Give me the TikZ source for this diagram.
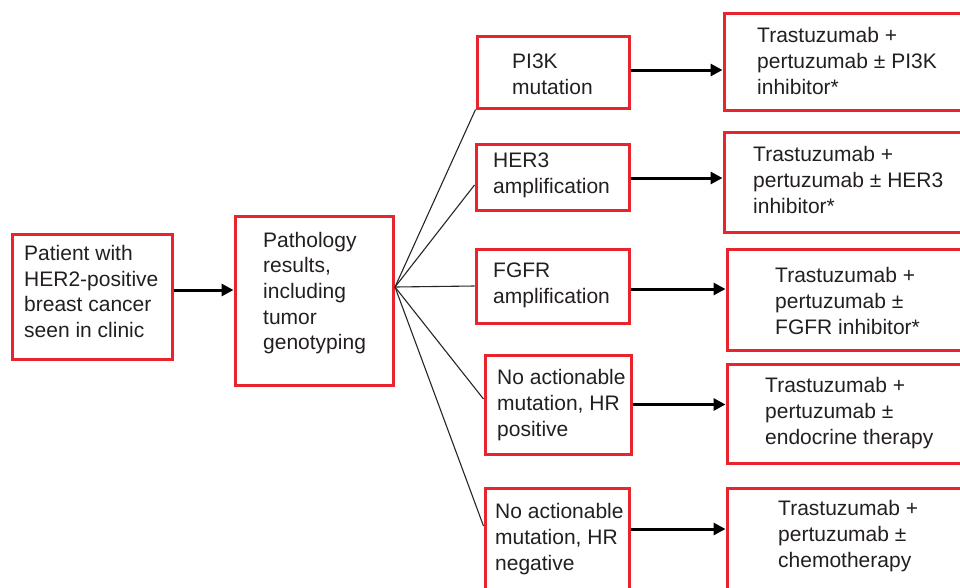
\documentclass[tikz,border=0pt]{standalone}
\usepackage{fontspec}
\setmainfont{Liberation Sans}
\usetikzlibrary{arrows.meta}
\definecolor{boxred}{HTML}{E8242C}
\definecolor{txtgray}{HTML}{231F20}
\tikzset{
  box/.style={draw=boxred, line width=3pt, rectangle, inner sep=0pt},
  txt/.style={anchor=west, inner sep=0pt, align=left, text=txtgray,
    font=\fontsize{21}{25.7}\selectfont},
  arr/.style={draw=black, line width=3pt, -{Triangle[length=12pt,width=12pt]}},
  fanline/.style={draw=black!85, line width=1.1pt}
}
\begin{document}
\begin{tikzpicture}[x=1pt,y=-1pt]
\clip (0,0) rectangle (960,587);
\useasboundingbox (0,0) rectangle (960,587);
% boxes
\node[box, minimum width=160pt, minimum height=125pt] (A) at (92,296.5) {};
\node[box, minimum width=158pt, minimum height=169pt] (B) at (314,300.5) {};
\node[box, minimum width=152pt, minimum height=72pt] (P1) at (553,72) {};
\node[box, minimum width=153pt, minimum height=66pt] (P2) at (552.5,177) {};
\node[box, minimum width=153pt, minimum height=74pt] (P3) at (552.5,286) {};
\node[box, minimum width=146pt, minimum height=99pt] (P4) at (558,404.5) {};
\node[box, minimum width=144pt, minimum height=112pt] (P5) at (557,544) {};
\node[box, minimum width=256pt, minimum height=97pt] (R1) at (852,61.5) {};
\node[box, minimum width=256pt, minimum height=100pt] (R2) at (852,182) {};
\node[box, minimum width=253pt, minimum height=101pt] (R3) at (853.5,299.5) {};
\node[box, minimum width=253pt, minimum height=99pt] (R4) at (853.5,413.5) {};
\node[box, minimum width=253pt, minimum height=112pt] (R5) at (853.5,544) {};
% texts
\node[txt] (tA) at (24,291.5) {Patient with\\HER2-positive\\breast cancer\\seen in clinic};
\node[txt] (tB) at (263,293) {Pathology\\results,\\including\\tumor\\genotyping};
\node[txt] (t1) at (512,74.5) {PI3K\\mutation};
\node[txt] (t2) at (493,175) {HER3\\amplification};
\node[txt] (t3) at (493,285) {FGFR\\amplification};
\node[txt] (t4) at (497,405) {No actionable\\mutation, HR\\positive};
\node[txt] (t5) at (495,539) {No actionable\\mutation, HR\\negative};
\node[txt] (tr1) at (757,61) {Trastuzumab +\\pertuzumab ± PI3K\\inhibitor*};
\node[txt] (tr2) at (753,180) {Trastuzumab +\\pertuzumab ± HER3\\inhibitor*};
\node[txt] (tr3) at (775,301) {Trastuzumab +\\pertuzumab ±\\FGFR inhibitor*};
\node[txt] (tr4) at (765,413) {Trastuzumab +\\pertuzumab ±\\endocrine therapy};
\node[txt] (tr5) at (778,536) {Trastuzumab +\\pertuzumab ±\\chemotherapy};
% connectors
\draw[arr] ([yshift=6.5pt]A.east) -- ([yshift=6.5pt]A.east -| B.west);
\coordinate (fan) at (395,287);
\draw[fanline] (fan) -- (P1.south west);
\draw[fanline] (fan) -- ([yshift=-8pt]P2.west);
\draw[fanline] (fan) -- (P3.west);
\draw[fanline] (fan) -- ([yshift=5.5pt]P4.west);
\draw[fanline] (fan) -- ([yshift=18pt]P5.west);
\draw[arr] ([yshift=2pt]P1.east) -- ([yshift=2pt]P1.east -| R1.west);
\draw[arr] ([yshift=-1pt]P2.east) -- ([yshift=-1pt]P2.east -| R2.west);
\draw[arr] ([yshift=-3pt]P3.east) -- ([yshift=-3pt]P3.east -| R3.west);
\draw[arr] (P4.east) -- (P4.east -| R4.west);
\draw[arr] ([yshift=15pt]P5.east) -- ([yshift=15pt]P5.east -| R5.west);
\end{tikzpicture}
\end{document}
